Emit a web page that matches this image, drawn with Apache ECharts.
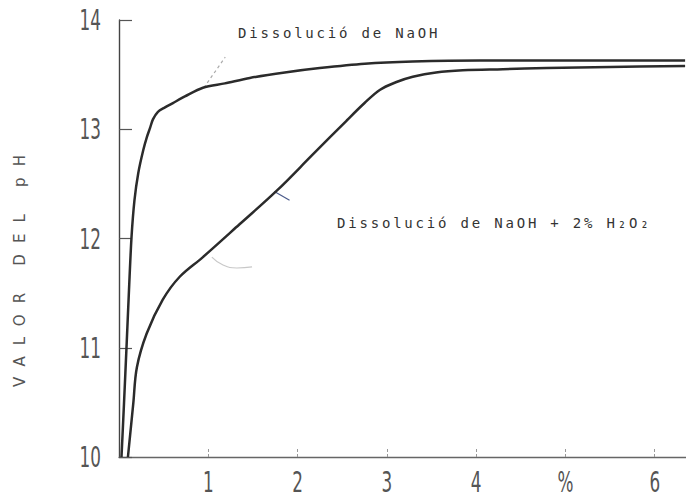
<!DOCTYPE html>
<html>
<head>
<meta charset="utf-8">
<script src="https://cdn.jsdelivr.net/npm/echarts@6/dist/echarts.min.js"></script>
<style>
  html, body { margin: 0; padding: 0; background: #fff; }
  #chart { width: 686px; height: 498px; }
</style>
</head>
<body>
<div id="chart"></div>
<script>
// ---- data ----
const xTickValues = [1, 2, 3, 4, 5, 6];
const xTickLabels = ['1', '2', '3', '4', '%', '6'];
const yTickValues = [10, 11, 12, 13, 14];

const naohX  = [0.028, 0.056, 0.086, 0.112, 0.140, 0.173, 0.216, 0.272, 0.313, 0.347, 0.380, 0.436, 0.515, 0.604, 0.738, 0.940, 1.186, 1.465, 1.857, 2.248, 2.752, 3.289, 4.04, 4.82, 6.34];
const naohPH = [10.00, 10.49, 11.04, 11.53, 12.01, 12.35, 12.60, 12.81, 12.93, 13.01, 13.09, 13.16, 13.20, 13.24, 13.30, 13.38, 13.42, 13.47, 13.52, 13.56, 13.60, 13.62, 13.63, 13.63, 13.63];

const peroxX  = [0.10, 0.16, 0.20, 0.31, 0.49, 0.68, 0.94, 1.35, 1.77, 2.16, 2.55, 2.75, 2.92, 3.10, 3.29, 3.55, 3.85, 4.30, 4.79, 5.50, 6.34];
const peroxPH = [10.0, 10.49, 10.82, 11.13, 11.44, 11.65, 11.83, 12.13, 12.44, 12.76, 13.08, 13.24, 13.36, 13.43, 13.48, 13.52, 13.54, 13.55, 13.56, 13.57, 13.58];

const labelNaOH  = 'Dissolució de NaOH';
const labelPerox = 'Dissolució de NaOH + 2% H₂O₂';
const yAxisTitle = 'VALOR DEL pH';

// hand-drawn annotation strokes (data units)
const leaderNaOH = [[0.95, 13.38], [1.19, 13.66]];
const pointerPerox = [[1.74, 12.43], [1.91, 12.35]];
const arcPerox = [[1.04, 11.83], [1.16, 11.76], [1.32, 11.73], [1.49, 11.74]];

const zip = (xs, ys) => xs.map((x, i) => [x, ys[i]]);

const chart = echarts.init(document.getElementById('chart'), null, { renderer: 'svg' });

const tickFont = '"DejaVu Sans", sans-serif';

chart.setOption({
  animation: false,
  backgroundColor: '#ffffff',
  grid: { left: 119, right: 0, top: 20, bottom: 41, containLabel: false },
  xAxis: {
    type: 'value',
    min: 0,
    max: 6.35,
    interval: 1,
    axisLine: { show: true, lineStyle: { color: '#666', width: 1.3 } },
    axisTick: { show: true, inside: true, length: 10, customValues: xTickValues,
                lineStyle: { color: '#999', width: 1, type: [3, 2] } },
    axisLabel: { show: true, margin: 10, customValues: xTickValues,
                 color: '#555', fontFamily: tickFont, fontSize: 29,
                 formatter: v => { const i = xTickValues.indexOf(Math.round(v)); return i >= 0 ? xTickLabels[i] : ''; } },
    splitLine: { show: false }
  },
  yAxis: {
    type: 'value',
    min: 10,
    max: 14,
    interval: 1,
    axisLine: { show: true, lineStyle: { color: '#444', width: 1.4 } },
    axisTick: { show: true, inside: true, length: 13, customValues: yTickValues,
                lineStyle: { color: '#555', width: 1.2 } },
    axisLabel: { show: true, margin: 18, customValues: yTickValues,
                 color: '#555', fontFamily: tickFont, fontSize: 29 },
    splitLine: { show: false }
  },
  graphic: [
    { type: 'text', x: 238, y: 33,
      style: { text: labelNaOH, fill: '#333', font: '14px "DejaVu Sans Mono"', align: 'left', verticalAlign: 'middle' } },
    { type: 'text', x: 337, y: 223,
      style: { text: labelPerox, fill: '#333', font: '14px "DejaVu Sans Mono"', align: 'left', verticalAlign: 'middle' } },
    { type: 'text', x: 20, y: 271, rotation: Math.PI / 2,
      style: { text: yAxisTitle, fill: '#555', font: '15px "DejaVu Sans"', align: 'center', verticalAlign: 'middle' } }
  ],
  series: [
    { name: 'NaOH', type: 'line', data: zip(naohX, naohPH), showSymbol: false, smooth: 0.3,
      lineStyle: { color: '#2b2b2b', width: 2.5 }, z: 3 },
    { name: 'NaOH + H2O2', type: 'line', data: zip(peroxX, peroxPH), showSymbol: false, smooth: 0.35,
      lineStyle: { color: '#2b2b2b', width: 2.5 }, z: 3 },
    { name: 'leader', type: 'line', data: leaderNaOH, showSymbol: false,
      lineStyle: { color: '#aaa', width: 1.2, type: [3, 3] }, z: 2 },
    { name: 'pointer', type: 'line', data: pointerPerox, showSymbol: false,
      lineStyle: { color: '#4a5a8a', width: 1.2 }, z: 2 },
    { name: 'arc', type: 'line', data: arcPerox, showSymbol: false, smooth: 0.5,
      lineStyle: { color: '#c8c8c8', width: 1.2 }, z: 2 }
  ]
});

const tickTexts = xTickLabels.concat(yTickValues.map(String));
function applySpacing() {
  document.querySelectorAll('#chart svg text').forEach(t => {
    if (t.getAttribute('data-adj')) return;
    const s = t.textContent;
    if (s === labelNaOH || s === labelPerox) {
      t.setAttribute('letter-spacing', '2.8');
    } else if (s === yAxisTitle) {
      t.setAttribute('textLength', '232');
      t.setAttribute('lengthAdjust', 'spacing');
    } else if (tickTexts.indexOf(s) >= 0) {
      let w = 0;
      try { w = t.getComputedTextLength(); } catch (e) {}
      if (w > 0) {
        t.setAttribute('textLength', String(w * 0.58));
        t.setAttribute('lengthAdjust', 'spacingAndGlyphs');
      }
    } else return;
    t.setAttribute('data-adj', '1');
  });
}
try { chart.getZr().flush(); } catch (e) {}
applySpacing();
chart.on('finished', applySpacing);
setTimeout(applySpacing, 30);
</script>
</body>
</html>
